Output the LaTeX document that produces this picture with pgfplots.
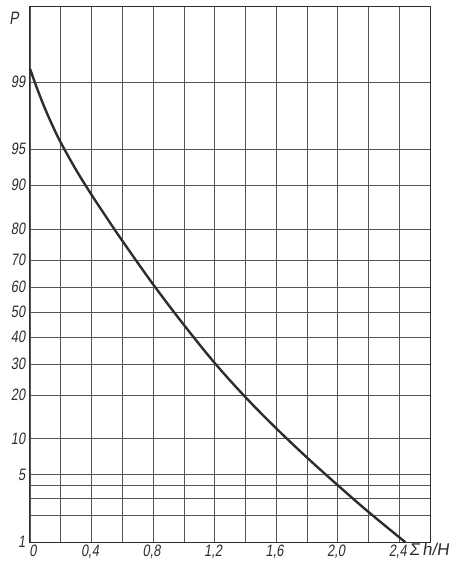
\documentclass[border=0pt]{standalone}
\usepackage{pgfplots}
\pgfplotsset{compat=1.18}
\usepackage{fontspec}
\newfontfamily\gost[FakeSlant=0.15,FakeStretch=0.78]{Liberation Sans}
\newfontfamily\gostw[FakeSlant=0.15]{Liberation Sans}
\definecolor{inkc}{RGB}{45,45,45}
\definecolor{gridc}{RGB}{85,85,85}
\begin{document}
\begin{tikzpicture}
\begin{axis}[
  scale only axis,
  width=400pt, height=535pt,
  xmin=0, xmax=2.6,
  ymin=1, ymax=99.9,
  y coord trafo/.code={%
    \pgfmathparse{#1/100}\let\probP\pgfmathresult
    \pgfmathparse{min(\probP,1-\probP)}\let\probQ\pgfmathresult
    \pgfmathparse{sqrt(-2*ln(\probQ))}\let\probT\pgfmathresult
    \pgfmathparse{\probT-(2.515517+0.802853*\probT+0.010328*\probT*\probT)/(1+1.432788*\probT+0.189269*\probT*\probT+0.001308*\probT*\probT*\probT)}\let\probZ\pgfmathresult
    \pgfmathparse{\probP<0.5 ? 0-(\probZ) : \probZ}%
  },
  xtick={0,0.2,0.4,0.6,0.8,1.0,1.2,1.4,1.6,1.8,2.0,2.2,2.4},
  xticklabels={\hspace*{9pt}0,,{0,4},,{0,8},,{1,2},,{1,6},,{2,0},,{2,4}},
  ytick={1,2,3,4,5,10,20,30,40,50,60,70,80,90,95,99},
  yticklabels={1,,,,5,10,20,30,40,50,60,70,80,90,95,99},
  grid=major,
  major grid style={line width=0.55pt, gridc},
  major tick length=0pt,
  axis line style={line width=1pt, inkc},
  tick label style={font=\gost\fontsize{16.5}{16.5}\selectfont, text=inkc},
  xticklabel style={inner sep=2.5pt, xshift=-1.5pt},
  yticklabel style={inner sep=4.5pt},
  clip=false,
]
\addplot[smooth, tension=0.6, line width=2.4pt, inkc] coordinates {
  (0.00,99.30) (0.05,98.75) (0.10,97.96) (0.15,96.93) (0.20,95.65)
  (0.30,92.42) (0.40,88.18) (0.50,82.87) (0.60,76.42) (0.80,61.03)
  (1.00,44.83) (1.20,30.33) (1.40,19.49) (1.60,12.00) (1.80,7.08)
  (2.00,4.01) (2.20,2.17) (2.44,1.00)
};
\coordinate (bl) at (rel axis cs:0,0);
\coordinate (tr) at (rel axis cs:1,1);
\node[font=\gost\fontsize{18}{18}\selectfont, text=inkc] at (rel axis cs:0,1) [xshift=-16pt, yshift=-11pt] {P};
\node[font=\gostw\fontsize{17}{17}\selectfont, text=inkc, anchor=west, inner sep=0pt] at (rel axis cs:0.947,0) [yshift=-7pt] {Σ\,h/H};
\end{axis}
\pgfresetboundingbox
\path[use as bounding box] ([shift={(-30pt,-23pt)}]bl) rectangle ([shift={(26pt,7pt)}]tr);
\end{tikzpicture}
\end{document}
